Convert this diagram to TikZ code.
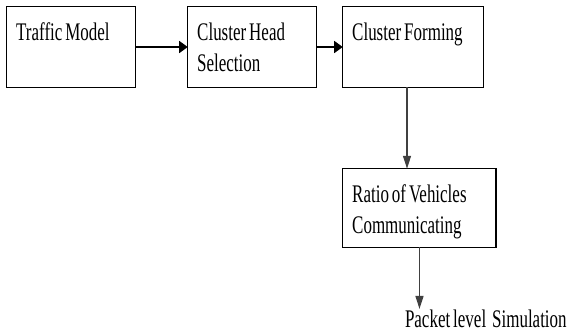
\documentclass[tikz,border=0pt]{standalone}
\usepackage{fontspec}
\setmainfont{Liberation Serif}[FakeStretch=0.67, WordSpace=0.7]
\usetikzlibrary{arrows.meta}

\newcommand{\stagefont}{\fontsize{19pt}{23.25pt}\selectfont}

\tikzset{
	stage/.style={draw, line width=1.1pt, anchor=north west, outer sep=0pt,
		inner xsep=7.1pt, inner ysep=0pt, align=flush left, font=\stagefont,
		text height=25.5pt},
	note/.style={inner sep=0pt, font=\stagefont},
	flow/.style={line width=1pt, -{Triangle[length=6.4pt,width=9pt]}},
	drop/.style={line width=1pt, draw=black!75, -{Triangle[length=9.75pt,width=6pt]}}}
\tikzset{every picture/.style={line width=0.75pt}}

\begin{document}
\begin{tikzpicture}[x=0.75pt,y=0.75pt,yscale=-1,xscale=1]
	\useasboundingbox (0,0) rectangle (567,335);

	%Shape: Rectangle [traffic]
	\node [stage, text width=82.2pt, text depth=34.9pt] (traffic) at (6.75,6.75) {Traffic Model};
	%Shape: Rectangle [head]
	\node [stage, text width=82.2pt, text depth=34.9pt] (head) at (187.75,6.75) {Cluster Head\\Selection};
	%Shape: Rectangle [forming]
	\node [stage, text width=91.2pt, text depth=34.9pt] (forming) at (342.75,6.75) {Cluster Forming};
	%Shape: Rectangle [ratio]
	\node [stage, text width=100.9pt, text depth=33.4pt] (ratio) at (342.75,168.75) {Ratio of Vehicles\\Communicating};

	% Text Node
	\node [note, anchor=base west] (sim) at (404.5,327) {Packet level~ Simulation};

	%Right Arrow
	\draw [flow] (traffic) -- (head);
	\draw [flow] (head) -- (forming);
	%Down Arrow
	\draw [drop] ([xshift=-4.5pt]forming.south) -- ([xshift=-4.5pt]forming.south |- ratio.north);
	\draw [drop] (ratio.south) -- (ratio.south |- sim.north);

\end{tikzpicture}
\end{document}
